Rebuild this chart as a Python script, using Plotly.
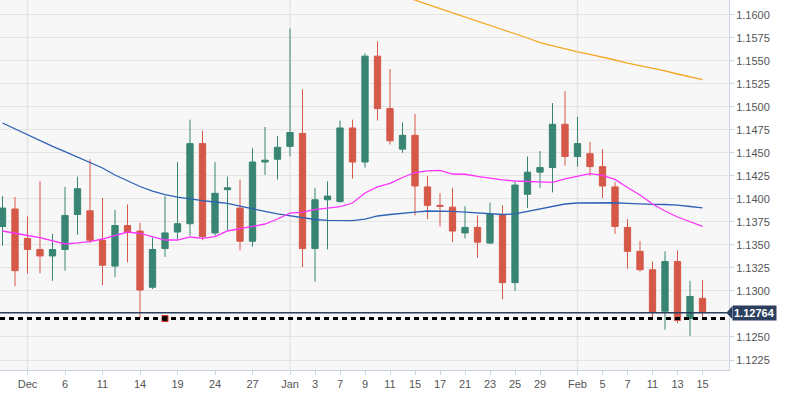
import plotly.graph_objects as go
import pandas as pd

# ---------------- data ----------------
dates = [d.strftime("%Y-%m-%d") for d in pd.bdate_range("2018-11-29", "2019-02-15")]

open_ = [1.1370, 1.1389, 1.1357, 1.1345, 1.1338, 1.1345, 1.1383, 1.1387, 1.1355, 1.1327,
         1.1371, 1.1365, 1.1304, 1.1346, 1.1364, 1.1373, 1.1460, 1.1363, 1.1410, 1.1390,
         1.1354, 1.1440, 1.1443, 1.1457, 1.1471, 1.1346, 1.1399, 1.1397, 1.1477, 1.1440,
         1.1555, 1.1498, 1.1454, 1.1469, 1.1413, 1.1393, 1.1391, 1.1363, 1.1369, 1.1352,
         1.1383, 1.1309, 1.1405, 1.1429, 1.1434, 1.1481, 1.1446, 1.1449, 1.1435, 1.1413,
         1.1369, 1.1343, 1.1323, 1.1278, 1.1332, 1.1270, 1.1292]
high = [1.1403, 1.1402, 1.1381, 1.1419, 1.1362, 1.1413, 1.1424, 1.1443, 1.1401, 1.1388,
        1.1394, 1.1374, 1.1358, 1.1403, 1.1440, 1.1486, 1.1474, 1.1440, 1.1424, 1.1421,
        1.1455, 1.1478, 1.1468, 1.1585, 1.1519, 1.1412, 1.1419, 1.1485, 1.1486, 1.1558,
        1.1571, 1.1541, 1.1483, 1.1492, 1.1425, 1.1406, 1.1412, 1.1392, 1.1382, 1.1396,
        1.1393, 1.1419, 1.1446, 1.1452, 1.1504, 1.1517, 1.1489, 1.1462, 1.1454, 1.1418,
        1.1378, 1.1354, 1.1332, 1.1343, 1.1344, 1.1311, 1.1312]
low = [1.1349, 1.1305, 1.1319, 1.1319, 1.1311, 1.1322, 1.1361, 1.1352, 1.1306, 1.1315,
       1.1331, 1.1270, 1.1302, 1.1337, 1.1356, 1.1360, 1.1355, 1.1360, 1.1366, 1.1344,
       1.1348, 1.1426, 1.1421, 1.1446, 1.1326, 1.1310, 1.1345, 1.1396, 1.1422, 1.1434,
       1.1485, 1.1459, 1.1450, 1.1382, 1.1378, 1.1370, 1.1353, 1.1357, 1.1336, 1.1351,
       1.1291, 1.1300, 1.1390, 1.1412, 1.1407, 1.1436, 1.1435, 1.1425, 1.1401, 1.1362,
       1.1324, 1.1321, 1.1269, 1.1258, 1.1265, 1.1251, 1.1272]
close = [1.1390, 1.1322, 1.1345, 1.1338, 1.1345, 1.1382, 1.1411, 1.1355, 1.1328, 1.1371,
         1.1364, 1.1301, 1.1345, 1.1363, 1.1373, 1.1460, 1.1359, 1.1406, 1.1412, 1.1354,
         1.1440, 1.1442, 1.1456, 1.1472, 1.1346, 1.1399, 1.1403, 1.1477, 1.1440, 1.1555,
         1.1498, 1.1463, 1.1469, 1.1414, 1.1393, 1.1392, 1.1365, 1.1369, 1.1353, 1.1383,
         1.1309, 1.1415, 1.1429, 1.1434, 1.1481, 1.1446, 1.1460, 1.1435, 1.1414, 1.1370,
         1.1343, 1.1323, 1.1277, 1.1332, 1.1268, 1.1294, 1.12764]

ma_20 = [1.13651, 1.13624, 1.13602, 1.13580, 1.13542, 1.13510, 1.13521, 1.13535, 1.13564, 1.13602,
         1.13640, 1.13624, 1.13591, 1.13553, 1.13553, 1.13586, 1.13570, 1.13591, 1.13651, 1.13673,
         1.13700, 1.13727, 1.13781, 1.13846, 1.13857, 1.13884, 1.13901, 1.13915, 1.13955, 1.14064,
         1.14129, 1.14169, 1.14232, 1.14286, 1.14303, 1.14310, 1.14270, 1.14267, 1.14243, 1.14223,
         1.14207, 1.14194, 1.14189, 1.14178, 1.14180, 1.14216, 1.14248, 1.14273, 1.14254, 1.14212,
         1.14123, 1.14042, 1.13944, 1.13868, 1.13803, 1.13754, 1.13700]
ma_50 = [1.14824, 1.14759, 1.14694, 1.14628, 1.14569, 1.14514, 1.14455, 1.14400, 1.14335, 1.14259,
         1.14194, 1.14134, 1.14085, 1.14047, 1.14020, 1.13999, 1.13982, 1.13966, 1.13950, 1.13922,
         1.13890, 1.13863, 1.13836, 1.13814, 1.13792, 1.13776, 1.13767, 1.13765, 1.13763, 1.13781,
         1.13814, 1.13830, 1.13846, 1.13857, 1.13868, 1.13868, 1.13865, 1.13857, 1.13846, 1.13841,
         1.13830, 1.13836, 1.13863, 1.13895, 1.13922, 1.13944, 1.13955, 1.13958, 1.13960, 1.13958,
         1.13952, 1.13944, 1.13941, 1.13939, 1.13933, 1.13917, 1.13901]
ma_200 = [None] * 31 + [1.16252, 1.16203, 1.16160, 1.16113, 1.16067, 1.16021, 1.15975, 1.15932,
                        1.15888, 1.15845, 1.15796, 1.15747, 1.15696, 1.15660, 1.15628, 1.15595,
                        1.15568, 1.15541, 1.15508, 1.15475, 1.15448, 1.15416, 1.15389, 1.15356,
                        1.15329, 1.15296]

tick_dates = ["2018-12-03", "2018-12-06", "2018-12-11", "2018-12-14", "2018-12-19", "2018-12-24",
              "2018-12-27", "2019-01-01", "2019-01-03", "2019-01-07", "2019-01-09", "2019-01-11",
              "2019-01-15", "2019-01-17", "2019-01-21", "2019-01-23", "2019-01-25", "2019-01-29",
              "2019-02-01", "2019-02-05", "2019-02-07", "2019-02-11", "2019-02-13", "2019-02-15"]
tick_labels = ["Dec", "6", "11", "14", "19", "24", "27", "Jan", "3", "7", "9", "11", "15", "17",
               "21", "23", "25", "29", "Feb", "5", "7", "11", "13", "15"]
month_starts = ["2018-12-03", "2019-01-01", "2019-02-01"]
price_ticks = [1.1225, 1.1250, 1.1300, 1.1325, 1.1350, 1.1375, 1.1400, 1.1425, 1.1450,
               1.1475, 1.1500, 1.1525, 1.1550, 1.1575, 1.1600]

last_price = 1.12764
support_level = 1.1270
support_origin = "2018-12-18"

# ---------------- figure ----------------
pos = {d: i for i, d in enumerate(dates)}
x = list(range(len(dates)))

GREEN = "#388573"
RED = "#d65848"
NAVY = "#2b3f5f"
AXIS = "#c9d3e3"
GRID = "#e4e4e4"

fig = go.Figure()

fig.add_trace(go.Candlestick(
    x=x, open=open_, high=high, low=low, close=close,
    increasing=dict(line=dict(color=GREEN, width=1), fillcolor=GREEN),
    decreasing=dict(line=dict(color=RED, width=1), fillcolor=RED),
    whiskerwidth=0, showlegend=False, hoverinfo="skip",
))
fig.add_trace(go.Scatter(x=x, y=ma_200, mode="lines", line=dict(color="#f5a623", width=1.3),
                         showlegend=False, hoverinfo="skip"))
fig.add_trace(go.Scatter(x=x, y=ma_50, mode="lines", line=dict(color="#2f62b5", width=1.3),
                         showlegend=False, hoverinfo="skip"))
fig.add_trace(go.Scatter(x=x, y=ma_20, mode="lines", line=dict(color="#ff33ff", width=1.3),
                         showlegend=False, hoverinfo="skip"))

# month separators
for m in month_starts:
    fig.add_shape(type="line", xref="x", yref="paper", x0=pos[m], x1=pos[m], y0=0, y1=1,
                  line=dict(color=GRID, width=1.5), layer="below")

# current price line and support level
fig.add_shape(type="line", xref="paper", yref="y", x0=0, x1=1, y0=last_price, y1=last_price,
              line=dict(color=NAVY, width=1.5))
fig.add_shape(type="line", xref="paper", yref="y", x0=0, x1=1, y0=support_level, y1=support_level,
              line=dict(color="#000000", width=3, dash="5px,4px"))
fig.add_trace(go.Scatter(x=[pos[support_origin]], y=[support_level], mode="markers",
                         marker=dict(symbol="square", size=6, color="#111111",
                                     line=dict(color="#e03020", width=1)),
                         showlegend=False, hoverinfo="skip"))

# price tag
fig.add_shape(type="path", xref="paper", yref="y",
              path=f"M 0.9965 {last_price} L 1.0045 {last_price + 0.00072} L 1.0045 {last_price - 0.00072} Z",
              fillcolor=NAVY, line=dict(width=0))
fig.add_annotation(xref="paper", yref="y", x=1, y=last_price, xanchor="left", yanchor="middle",
                   xshift=3, text="<b>1.12764</b>", showarrow=False,
                   font=dict(color="white", size=11, family="Liberation Sans, Arial"),
                   bgcolor=NAVY, borderpad=1)

fig.update_layout(
    width=785, height=398,
    margin=dict(l=0, r=56, t=0, b=28),
    paper_bgcolor="white",
    plot_bgcolor="#f7f7f7",
    boxgap=0.28,
    font=dict(family="Liberation Sans, Arial", size=11, color="#555555"),
    showlegend=False,
    hovermode=False,
    xaxis=dict(
        range=[-0.2, 58.12], rangeslider=dict(visible=False),
        tickmode="array", tickvals=[pos[d] for d in tick_dates], ticktext=tick_labels,
        showgrid=False, zeroline=False, showline=True, linecolor=AXIS, linewidth=1,
        ticks="outside", ticklen=4, tickcolor=AXIS, tickfont=dict(size=11, color="#555555"),
    ),
    yaxis=dict(
        side="right", range=[1.121414, 1.161596],
        tickmode="array", tickvals=price_ticks, tickformat=".4f",
        showgrid=True, gridcolor=GRID, gridwidth=1, zeroline=False,
        showline=True, linecolor=AXIS, linewidth=1,
        ticks="outside", ticklen=4, tickcolor=AXIS, tickfont=dict(size=11, color="#555555"),
    ),
)

fig.write_html("out.html", config={"displayModeBar": False},
               post_script="document.body.style.margin='0px';")
